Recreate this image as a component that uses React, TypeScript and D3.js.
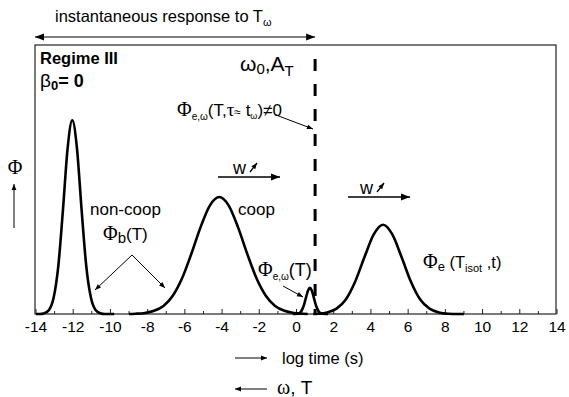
import React from "react";
import * as d3 from "d3";

// x ticks (log time, s)
const xTicks = [-14, -12, -10, -8, -6, -4, -2, 0, 2, 4, 6, 8, 10, 12, 14];
const xMinor = d3.range(-13, 14, 2);

// curves: [log time, Φ (arbitrary units)]
const peakNonCoop: [number, number][] = [
  [-14, 0], [-13.8, 0], [-13.55, 0.3], [-13.3, 1.5], [-13.05, 6.1], [-12.8, 17.9], [-12.55, 38.8],
  [-12.3, 61.7], [-12.05, 72], [-11.8, 61.7], [-11.55, 38.8], [-11.3, 17.9], [-11.05, 6.1],
  [-10.8, 1.5], [-10.55, 0.3], [-10.3, 0], [-9.8, 0],
];
const peakCoop: [number, number][] = [
  [-9, 0], [-8.65, 0.1], [-8.15, 0.4], [-7.65, 1.2], [-7.15, 3.0], [-6.65, 6.8], [-6.15, 13.3],
  [-5.65, 22.4], [-5.15, 32.4], [-4.65, 40.4], [-4.15, 43.5], [-3.65, 40.4], [-3.15, 32.4],
  [-2.65, 22.4], [-2.15, 13.3], [-1.65, 6.8], [-1.15, 3.0], [-0.65, 1.2], [-0.15, 0.4], [0.35, 0.1], [0.6, 0],
];
const peakOmega: [number, number][] = [
  [-0.2, 0], [0.02, 0.1], [0.12, 0.2], [0.22, 0.7], [0.32, 1.9], [0.42, 3.8], [0.52, 6.4], [0.62, 8.75],
  [0.72, 9.7], [0.82, 8.75], [0.92, 6.4], [1.02, 3.8], [1.12, 1.9], [1.22, 0.7], [1.32, 0.2], [1.42, 0.1], [1.7, 0],
];
const peakIsot: [number, number][] = [
  [0.9, 0], [1.15, 0.1], [1.65, 0.6], [2.15, 2.0], [2.65, 5.4], [3.15, 12.0], [3.65, 21.1], [4.15, 29.6],
  [4.65, 33.2], [5.15, 29.6], [5.65, 21.1], [6.15, 12.0], [6.65, 5.4], [7.15, 2.0], [7.65, 0.6],
  [8.15, 0.1], [8.65, 0], [9.0, 0],
];
const dashX = 1.0;

const W = 569, H = 397;
const L = 35, R = 556, T = 45, B = 314;

const SANS = "'Liberation Sans', Arial, sans-serif";
const SERIF = "'Liberation Serif', 'Times New Roman', serif";

export default function App() {
  const x = d3.scaleLinear().domain([-14, 14]).range([36, 557]);
  const y = d3.scaleLinear().domain([0, 100]).range([B, T]);
  const line = d3.line<[number, number]>().x(d => x(d[0])).y(d => y(d[1])).curve(d3.curveMonotoneX);
  const curves = [peakNonCoop, peakCoop, peakOmega, peakIsot];

  return (
    <svg width={W} height={H} style={{ display: "block", position: "absolute", left: 0, top: 0, background: "#fff" }}>
      <defs>
        <marker id="ahs" viewBox="0 0 10 10" refX="10" refY="5" markerWidth="7" markerHeight="6" orient="auto-start-reverse" markerUnits="userSpaceOnUse">
          <path d="M0,1 L10,5 L0,9 Z" fill="#000" />
        </marker>
        <marker id="ahb" viewBox="0 0 10 10" refX="10" refY="5" markerWidth="14" markerHeight="9" orient="auto-start-reverse" markerUnits="userSpaceOnUse">
          <path d="M0,1 L10,5 L0,9 Z" fill="#000" />
        </marker>
      </defs>

      {/* frame */}
      <rect x={L} y={T} width={R - L} height={B - T} fill="none" stroke="#222" strokeWidth={1.2} />

      {/* ticks */}
      {xTicks.map(t => (
        <g key={t}>
          <line x1={x(t)} x2={x(t)} y1={B} y2={B - 5} stroke="#222" strokeWidth={1} />
          <text x={x(t)} y={332} textAnchor="middle" fontFamily={SANS} fontSize={15.5}>{t < 0 ? "-" + Math.abs(t) : t}</text>
        </g>
      ))}
      {xMinor.map(t => (
        <line key={t} x1={x(t)} x2={x(t)} y1={B} y2={B - 3} stroke="#222" strokeWidth={1} />
      ))}

      {/* curves */}
      {curves.map((c, i) => (
        <path key={i} d={line(c) || ""} fill="none" stroke="#000" strokeWidth={2.6} strokeLinejoin="round" />
      ))}

      {/* dashed vertical */}
      <line x1={x(dashX)} x2={x(dashX)} y1={59} y2={B} stroke="#000" strokeWidth={3} strokeDasharray="12 13" />

      {/* top arrow */}
      <text x={55} y={22} fontFamily={SANS} fontSize={16.5}>instantaneous response to T<tspan fontSize={11} dy={4}>ω</tspan></text>
      <line x1={L} x2={x(dashX)} y1={37} y2={37} stroke="#000" strokeWidth={1.2} markerStart="url(#ahb)" markerEnd="url(#ahb)" />

      {/* regime */}
      <text x={40} y={64} fontFamily={SANS} fontSize={16.5} fontWeight="bold">Regime III</text>
      <text x={40} y={87} fontFamily={SANS} fontSize={19}>β<tspan fontSize={13} fontWeight="bold" dy={3}>0</tspan><tspan dy={-3} fontSize={18} fontWeight="bold">= 0</tspan></text>

      {/* omega0, A_T */}
      <text x={240} y={71} fontFamily={SANS} fontSize={21}>ω<tspan fontSize={15} dy={3}>0</tspan><tspan dy={-3}>,A</tspan><tspan fontSize={15} dy={5}>T</tspan></text>

      {/* Phi e,omega (T, tau ~ t_omega) != 0 */}
      <text x={177} y={116} fontFamily={SANS} fontSize={17}>
        <tspan fontFamily={SERIF} fontSize={20}>Φ</tspan><tspan fontSize={10} dy={4}>e,ω</tspan><tspan dy={-4}>(T,</tspan><tspan fontFamily={SERIF} fontSize={19}>τ</tspan><tspan fontSize={12}>≈</tspan><tspan> t</tspan><tspan fontSize={9} dy={3}>ω</tspan><tspan dy={-3}>)≠0</tspan>
      </text>
      <line x1={276} y1={115} x2={313} y2={129} stroke="#000" strokeWidth={1} markerEnd="url(#ahs)" />

      {/* y label */}
      <text x={15} y={174} textAnchor="middle" fontFamily={SERIF} fontSize={20}>Φ</text>
      <line x1={14} x2={14} y1={228} y2={184} stroke="#000" strokeWidth={1} markerEnd="url(#ahs)" />

      {/* w arrows */}
      <text x={233} y={174} fontFamily={SANS} fontSize={18}>w</text>
      <line x1={250} y1={172} x2={257} y2={163} stroke="#000" strokeWidth={1.3} markerEnd="url(#ahs)" />
      <line x1={218} x2={280} y1={177} y2={177} stroke="#000" strokeWidth={1.3} markerEnd="url(#ahb)" />
      <text x={360} y={194} fontFamily={SANS} fontSize={18}>w</text>
      <line x1={377} y1={192} x2={384} y2={183} stroke="#000" strokeWidth={1.3} markerEnd="url(#ahs)" />
      <line x1={348} x2={410} y1={197} y2={197} stroke="#000" strokeWidth={1.3} markerEnd="url(#ahb)" />

      {/* non-coop */}
      <text x={90} y={215} fontFamily={SANS} fontSize={17}>non-coop</text>
      <text x={103} y={240} fontFamily={SANS} fontSize={17}><tspan fontFamily={SERIF} fontSize={20}>Φ</tspan><tspan fontSize={15} dy={3}>b</tspan><tspan dy={-3}>(T)</tspan></text>
      <line x1={132} y1={255} x2={95} y2={290} stroke="#000" strokeWidth={1} markerEnd="url(#ahs)" />
      <line x1={132} y1={255} x2={165} y2={288} stroke="#000" strokeWidth={1} markerEnd="url(#ahs)" />

      {/* coop */}
      <text x={238} y={215} fontFamily={SANS} fontSize={17}>coop</text>

      {/* Phi e,omega (T) */}
      <text x={258} y={276} fontFamily={SANS} fontSize={18}><tspan fontFamily={SERIF} fontSize={20}>Φ</tspan><tspan fontSize={10} dy={4}>e,ω</tspan><tspan dy={-4}>(T)</tspan></text>
      <line x1={283} y1={286} x2={303} y2={297} stroke="#000" strokeWidth={1} markerEnd="url(#ahs)" />

      {/* Phi e (T_isot, t) */}
      <text x={423} y={268} fontFamily={SANS} fontSize={16.5}><tspan fontFamily={SERIF} fontSize={20}>Φ</tspan><tspan fontSize={13} dy={3}>e</tspan><tspan dy={-3}> (T</tspan><tspan fontSize={11} dy={4}>isot</tspan><tspan dy={-4}> ,t)</tspan></text>

      {/* bottom labels */}
      <line x1={235} x2={267} y1={358} y2={358} stroke="#000" strokeWidth={1} markerEnd="url(#ahs)" />
      <text x={282} y={364} fontFamily={SANS} fontSize={16.5}>log time (s)</text>
      <line x1={267} x2={235} y1={389} y2={389} stroke="#000" strokeWidth={1} markerEnd="url(#ahs)" />
      <text x={277} y={394} fontFamily={SERIF} fontSize={20}>ω<tspan fontFamily={SANS} fontSize={19}>, T</tspan></text>
    </svg>
  );
}
